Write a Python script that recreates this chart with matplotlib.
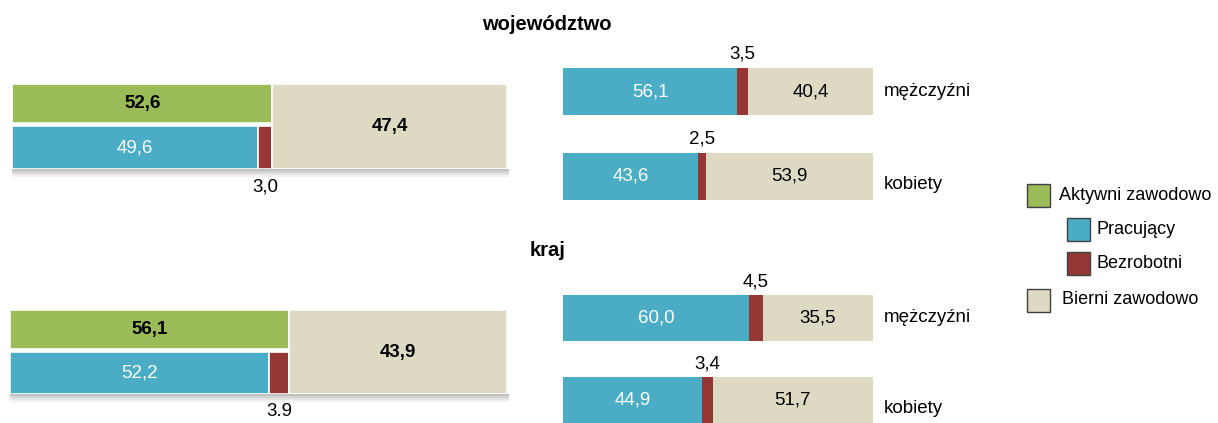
import matplotlib
matplotlib.use("Agg")
import matplotlib.pyplot as plt
from matplotlib.patches import Rectangle

plt.rcParams['font.family'] = ['Liberation Sans', 'DejaVu Sans']

# dane: udział ludności (%)
regions = ["województwo", "kraj"]
aktywni = [52.6, 56.1]
pracujacy = [49.6, 52.2]
bezrobotni = [3.0, 3.9]
bierni = [47.4, 43.9]
bezrobotni_lbl = ["3,0", "3.9"]

plec = ["mężczyźni", "kobiety"]
prac_plec = [[56.1, 43.6], [60.0, 44.9]]
bezr_plec = [[3.5, 2.5], [4.5, 3.4]]
bier_plec = [[40.4, 53.9], [35.5, 51.7]]

legend_labels = ["Aktywni zawodowo", "Pracujący", "Bezrobotni", "Bierni zawodowo"]

GREEN = "#9BBB59"
BLUE = "#4BACC6"
RED = "#953735"
BEIGE = "#DDD9C3"
FS = 13.5

W, H = 1218, 423
fig = plt.figure(figsize=(W / 100, H / 100), dpi=100)


def fmt(v):
    return f"{v:.1f}".replace(".", ",")


def px_axes(x0, y0, x1, y1):
    ax = fig.add_axes([x0 / W, 1 - y1 / H, (x1 - x0) / W, (y1 - y0) / H])
    ax.set_xlim(0, 100)
    ax.axis("off")
    return ax


# lewa część: ogółem
left_pos = [(12, 84, 507, 169), (10, 310, 507, 394)]
for i in range(2):
    ax = px_axes(*left_pos[i])
    ax.set_ylim(0, 1)
    # cień pod słupkami
    for k, a in enumerate([0.35, 0.25, 0.15, 0.08]):
        ax.add_patch(Rectangle((0, -0.025 * (k + 1)), 100.5, 0.025, color="#505050",
                               alpha=a, lw=0, clip_on=False))
    ax.barh(0.54, aktywni[i], height=0.46, left=0, align="edge", color=GREEN,
            edgecolor="white", lw=1.2)
    ax.barh(0, pracujacy[i], height=0.5, left=0, align="edge", color=BLUE,
            edgecolor="white", lw=1.2)
    ax.barh(0, bezrobotni[i], height=0.5, left=pracujacy[i], align="edge", color=RED,
            edgecolor="white", lw=1.2)
    ax.barh(0, bierni[i], height=1.0, left=aktywni[i], align="edge", color=BEIGE,
            edgecolor="white", lw=1.2)
    ax.text(aktywni[i] / 2, 0.77, fmt(aktywni[i]), ha="center", va="center",
            fontsize=FS, fontweight="bold")
    ax.text(pracujacy[i] / 2, 0.25, fmt(pracujacy[i]), ha="center", va="center",
            fontsize=FS, color="white")
    ax.text(aktywni[i] + bierni[i] / 2, 0.5, fmt(bierni[i]), ha="center", va="center",
            fontsize=FS, fontweight="bold")
    ax.text(pracujacy[i] + bezrobotni[i] / 2, -0.21, bezrobotni_lbl[i], ha="center",
            va="center", fontsize=FS, clip_on=False)

# prawa część: według płci
right_pos = [(563, 68, 873, 200), (563, 295, 873, 423)]
for i in range(2):
    ax = px_axes(*right_pos[i])
    ax.set_ylim(-0.28, 1.28)
    ys = [1, 0]
    for j in range(2):
        y = ys[j]
        p, b, r = prac_plec[i][j], bezr_plec[i][j], bier_plec[i][j]
        ax.barh(y, p, height=0.56, color=BLUE, lw=0)
        ax.barh(y, b, height=0.56, left=p, color=RED, lw=0)
        ax.barh(y, r, height=0.56, left=p + b, color=BEIGE, lw=0)
        ax.text(p / 2, y, fmt(p), ha="center", va="center", fontsize=FS, color="white")
        ax.text(p + b + r / 2, y, fmt(r), ha="center", va="center", fontsize=FS)
        ax.text(p + b / 2, y + 0.44, fmt(b), ha="center", va="center", fontsize=FS,
                clip_on=False)
    ax.text(103.5, 1.0, plec[0], ha="left", va="center", fontsize=FS, clip_on=False)
    ax.text(103.5, -0.1, plec[1], ha="left", va="center", fontsize=FS, clip_on=False)

# tytuły i legenda
ov = fig.add_axes([0, 0, 1, 1])
ov.set_xlim(0, W)
ov.set_ylim(H, 0)
ov.axis("off")
ov.text(547, 25, regions[0], ha="center", va="center", fontsize=14.5, fontweight="bold")
ov.text(548, 250, regions[1], ha="center", va="center", fontsize=14.5, fontweight="bold")

leg_colors = [GREEN, BLUE, RED, BEIGE]
leg_box = [(1027, 184), (1067, 218), (1067, 252), (1027, 289)]
leg_text = [(1059, 195), (1097, 230), (1097, 263), (1062, 300)]
for c, (bx, by), (tx, ty), lab in zip(leg_colors, leg_box, leg_text, legend_labels):
    ov.add_patch(Rectangle((bx, by), 23, 23, facecolor=c, edgecolor="#404040", lw=1))
    ov.text(tx, ty, lab, ha="left", va="center", fontsize=13)

fig.savefig("out.png", dpi=100)
